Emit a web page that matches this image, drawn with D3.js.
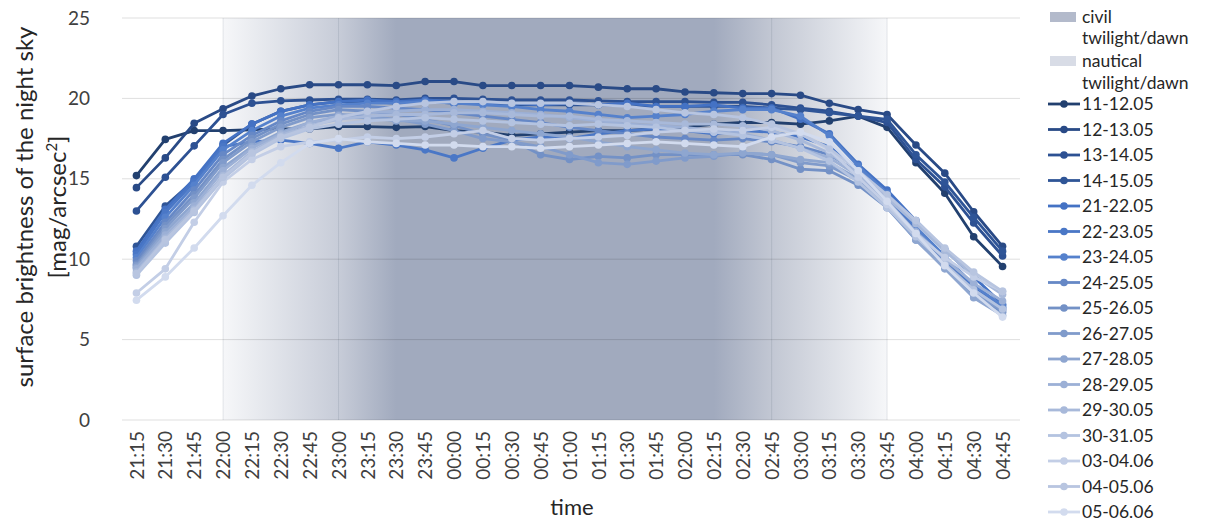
<!DOCTYPE html>
<html>
<head>
<meta charset="utf-8">
<script src="https://cdn.jsdelivr.net/npm/d3@7"></script>
<style>
  body { margin: 0; background: #fff; }
  svg { display: block; }
  text { font-family: Lato, "Open Sans", sans-serif; }
</style>
</head>
<body>
<svg id="chart" width="1207" height="522"></svg>
<script>
// time categories (15 minute steps)
var times = ["21:15","21:30","21:45","22:00","22:15","22:30","22:45","23:00","23:15","23:30","23:45",
  "00:00","00:15","00:30","00:45","01:00","01:15","01:30","01:45","02:00","02:15","02:30","02:45",
  "03:00","03:15","03:30","03:45","04:00","04:15","04:30","04:45"];

var yTicks = [0, 5, 10, 15, 20, 25];

// twilight boundaries for the background shading
var twilightTimes = ["22:00", "23:00", "23:30", "02:15", "02:45", "03:45"];
var twilightLines = ["22:00", "23:00", "02:45", "03:45"];
var twilightNames = ["civil twilight/dawn", "nautical twilight/dawn"];

var seriesNames = ["11-12.05","12-13.05","13-14.05","14-15.05","21-22.05","22-23.05","23-24.05",
  "24-25.05","25-26.05","26-27.05","27-28.05","28-29.05","29-30.05","30-31.05","03-04.06","04-05.06","05-06.06"];

// surface brightness [mag/arcsec2]
var s1112 = [15.2,17.45,18.0,18.0,18.05,18.1,18.1,18.25,18.25,18.2,18.25,18.0,17.9,17.7,17.8,17.9,18.0,18.0,18.1,18.2,18.4,18.5,18.5,18.4,18.6,18.9,18.2,16.0,14.1,11.4,9.55];
var s1213 = [14.45,16.3,18.45,19.35,20.15,20.6,20.85,20.85,20.85,20.8,21.05,21.05,20.8,20.8,20.8,20.8,20.7,20.6,20.6,20.4,20.35,20.3,20.3,20.2,19.7,19.3,19.0,17.1,15.35,12.95,10.8];
var s1314 = [13.0,15.1,17.05,19.0,19.7,19.85,19.9,19.95,19.95,19.9,20.0,20.0,19.95,19.9,19.9,19.9,19.85,19.8,19.8,19.8,19.75,19.75,19.6,19.4,19.2,18.9,18.5,16.2,14.5,12.25,10.2];
var s1415 = [10.8,13.3,14.9,17.1,18.4,19.2,19.6,19.8,19.8,19.7,19.8,19.7,19.7,19.6,19.6,19.6,19.6,19.55,19.5,19.5,19.5,19.5,19.4,19.3,19.1,18.9,18.7,16.5,14.8,12.6,10.5];
var s2122 = [10.5,13.1,15.0,17.2,18.4,19.2,19.6,19.8,19.9,19.8,19.9,19.8,19.7,19.7,19.6,19.7,19.6,19.7,19.5,19.5,19.6,19.4,19.4,18.7,17.8,15.9,14.3,12.4,10.6,8.9,7.2];
var s2223 = [10.3,12.9,14.8,17.0,17.3,17.4,17.2,16.9,17.3,17.1,16.8,16.3,16.9,17.4,17.6,17.5,17.8,18.0,18.1,18.0,17.8,18.0,17.9,17.6,17.0,15.6,13.9,11.8,9.9,8.2,7.0];
var s2324 = [10.1,12.6,14.6,16.8,18.0,18.9,19.4,19.6,19.7,19.7,19.8,19.7,19.6,19.5,19.3,19.2,19.0,18.8,18.9,19.0,19.2,19.3,19.3,18.9,17.7,15.8,14.1,12.0,10.2,8.4,7.1];
var s2425 = [9.9,12.3,14.3,16.5,17.7,18.6,19.2,19.5,19.5,19.4,19.3,19.1,18.9,18.7,18.5,18.2,18.0,17.8,17.6,17.5,17.4,17.5,17.3,17.0,16.5,15.4,13.7,11.6,9.8,8.1,6.9];
var s2526 = [9.7,12.1,14.0,16.2,17.5,18.4,19.0,19.3,19.2,19.0,18.7,18.3,17.8,17.4,16.5,16.2,16.4,16.3,16.5,16.5,16.5,16.5,16.2,15.6,15.5,14.6,13.2,11.2,9.5,7.8,6.7];
var s2627 = [9.6,11.9,13.8,16.0,17.3,18.2,18.8,19.0,18.9,18.7,18.4,18.0,17.5,17.3,17.0,16.5,16.0,15.9,16.1,16.3,16.4,16.6,16.5,16.0,15.8,14.9,13.5,11.5,9.6,7.9,6.8];
var s2728 = [9.5,11.7,13.5,15.7,17.0,17.9,18.5,18.8,18.8,18.6,18.6,18.4,18.2,18.0,17.8,17.6,17.3,17.0,16.8,16.6,16.5,16.6,16.5,16.2,16.0,15.0,13.3,11.2,9.4,7.6,6.5];
var s2829 = [9.4,11.5,13.3,15.5,16.9,17.8,18.5,18.9,19.1,19.2,19.3,19.3,19.2,19.1,19.0,18.8,18.6,18.4,18.3,18.2,18.0,17.8,17.4,16.9,16.3,15.2,13.6,11.7,10.0,8.5,7.4];
var s2930 = [9.2,11.3,13.1,15.2,16.7,17.7,18.3,18.7,18.9,19.0,19.0,19.1,19.1,19.0,18.9,18.9,18.7,18.6,18.5,18.4,18.4,18.3,18.0,17.4,16.6,15.3,13.8,12.2,10.5,9.0,7.8];
var s3031 = [9.0,11.0,12.9,15.0,16.5,17.5,18.1,18.4,18.6,18.7,18.8,18.7,18.6,18.5,18.4,18.3,18.4,18.3,18.2,18.0,17.9,17.7,17.4,16.9,16.1,14.8,13.2,11.4,9.7,8.1,6.9];
var s0304 = [7.9,9.4,12.3,14.8,16.2,17.0,17.3,17.4,17.6,17.5,17.6,17.8,18.0,17.5,17.4,17.5,17.6,17.7,17.9,18.0,18.1,18.0,18.2,17.8,16.8,15.1,13.4,11.6,10.1,8.9,8.0];
var s0405 = [9.1,11.2,13.0,15.1,16.6,17.6,18.2,18.8,19.2,19.5,19.7,19.8,19.8,19.7,19.7,19.7,19.6,19.5,19.3,19.1,19.0,18.8,18.4,17.8,16.9,15.5,14.0,12.4,10.7,9.2,8.0];
var s0506 = [7.45,8.9,10.7,12.7,14.6,16.0,17.2,17.5,17.3,17.2,17.1,17.1,17.0,17.0,16.9,17.0,17.1,17.2,17.3,17.2,17.1,17.0,17.6,17.9,17.3,15.5,13.6,11.6,9.6,7.9,6.4];

var seriesValues = [s1112, s1213, s1314, s1415, s2122, s2223, s2324, s2425, s2526, s2627,
  s2728, s2829, s2930, s3031, s0304, s0405, s0506];

// styles
var seriesColors = ["#22406f","#294a86","#2d5193","#2f5597","#4472c4","#4a77c6","#5581cc","#6688c6",
  "#7391c6","#809bcb","#8ea6d0","#9cb0d6","#a8b9da","#b4c3e0","#c3cee6","#b8c5e0","#d2dbee"];
var shadeColors = ["#f6f7f9","#c7ccd8","#a1aabe","#a1aabe","#c2c7d3","#f6f7f9"];
var swatchColors = ["#b3bacb", "#d8dce6"];

var svg = d3.select("#chart");

var x = d3.scalePoint().domain(times).range([122, 1017]).padding(0.5);
var y = d3.scaleLinear().domain([0, 25]).range([420, 18]);

// background gradient for twilight / night
var x0 = x(twilightTimes[0]), x1 = x(twilightTimes[twilightTimes.length - 1]);
var grad = svg.append("defs").append("linearGradient")
  .attr("id", "night")
  .attr("gradientUnits", "userSpaceOnUse")
  .attr("x1", x0).attr("x2", x1).attr("y1", 0).attr("y2", 0);
grad.selectAll("stop")
  .data(twilightTimes)
  .enter().append("stop")
  .attr("offset", d => (x(d) - x0) / (x1 - x0))
  .attr("stop-color", (d, i) => shadeColors[i]);

svg.append("rect")
  .attr("x", x0).attr("y", y(25))
  .attr("width", x1 - x0).attr("height", y(0) - y(25))
  .attr("fill", "url(#night)");

svg.append("g").selectAll("line")
  .data(twilightLines)
  .enter().append("line")
  .attr("x1", d => x(d)).attr("x2", d => x(d))
  .attr("y1", y(25)).attr("y2", y(0))
  .attr("stroke", "rgba(60,70,100,0.12)")
  .attr("stroke-width", 1);

// horizontal grid
svg.append("g").selectAll("line")
  .data(yTicks)
  .enter().append("line")
  .attr("x1", 122).attr("x2", 1020)
  .attr("y1", d => y(d)).attr("y2", d => y(d))
  .attr("stroke", "rgba(0,0,0,0.13)")
  .attr("stroke-width", 1);

// y axis labels
var yAxis = svg.append("g")
  .attr("transform", "translate(100,0)")
  .call(d3.axisLeft(y).tickValues(yTicks).tickSize(0).tickPadding(10));
yAxis.select(".domain").remove();
yAxis.selectAll("text").attr("font-size", 19).attr("fill", "#404040")
  .style("font-family", "Lato, sans-serif");

// x axis labels
var xAxis = svg.append("g")
  .attr("transform", "translate(0," + y(0) + ")")
  .call(d3.axisBottom(x).tickSize(0));
xAxis.select(".domain").remove();
xAxis.selectAll("text")
  .attr("font-size", 19).attr("fill", "#404040")
  .style("font-family", "Lato, sans-serif")
  .attr("text-anchor", "end")
  .attr("transform", "rotate(-90)")
  .attr("x", -11).attr("y", 0).attr("dy", "0.35em");

// axis titles
svg.append("text")
  .attr("x", 572).attr("y", 515)
  .attr("text-anchor", "middle")
  .attr("font-size", 22).attr("fill", "#262626")
  .text("time");

var yTitle = svg.append("text")
  .attr("transform", "translate(33,207) rotate(-90)")
  .attr("text-anchor", "middle")
  .attr("font-size", 24).attr("fill", "#262626");
yTitle.append("tspan").attr("x", 0).attr("y", 0).text("surface brightness of the night sky");
var t2 = yTitle.append("tspan").attr("x", 0).attr("y", 33).text("[mag/arcsec");
t2.append("tspan").attr("baseline-shift", "super").attr("font-size", 15).text("2");
t2.append("tspan").text("]");

// series lines
var line = d3.line()
  .x((d, i) => x(times[i]))
  .y(d => y(d));

var series = svg.append("g").selectAll("g.series")
  .data(seriesValues)
  .enter().append("g")
  .attr("class", "series");

series.append("path")
  .attr("d", d => line(d))
  .attr("fill", "none")
  .attr("stroke", (d, i) => seriesColors[i])
  .attr("stroke-width", 2.8)
  .attr("stroke-linejoin", "round");

series.each(function(vals, si) {
  d3.select(this).selectAll("circle")
    .data(vals)
    .enter().append("circle")
    .attr("cx", (d, i) => x(times[i]))
    .attr("cy", d => y(d))
    .attr("r", 3.8)
    .attr("fill", seriesColors[si]);
});

// legend
var legend = svg.append("g").attr("transform", "translate(1048,0)");
var legText = 17.5;
var legTop = [17, 61];

twilightNames.forEach((name, i) => {
  var top = legTop[i];
  var words = name.split(" ");
  legend.append("rect")
    .attr("x", 2).attr("y", top - 5)
    .attr("width", 26).attr("height", 10)
    .attr("fill", swatchColors[i]);
  legend.append("text").attr("x", 34).attr("y", top).attr("dy", "0.35em")
    .attr("font-size", legText).attr("fill", "#262626").text(words[0]);
  legend.append("text").attr("x", 34).attr("y", top + 21 + i).attr("dy", "0.35em")
    .attr("font-size", legText).attr("fill", "#262626").text(words[1]);
});

var legRow = d3.scaleLinear().domain([0, seriesNames.length - 1]).range([104, 512]);
var items = legend.selectAll("g.item")
  .data(seriesNames)
  .enter().append("g")
  .attr("class", "item")
  .attr("transform", (d, i) => "translate(0," + legRow(i) + ")");
items.append("line")
  .attr("x1", 0).attr("x2", 32).attr("y1", 0).attr("y2", 0)
  .attr("stroke", (d, i) => seriesColors[i]).attr("stroke-width", 2.8);
items.append("circle")
  .attr("cx", 16).attr("cy", 0).attr("r", 3.8)
  .attr("fill", (d, i) => seriesColors[i]);
items.append("text")
  .attr("x", 34).attr("y", 0).attr("dy", "0.35em")
  .attr("font-size", legText).attr("fill", "#262626")
  .text(d => d);
</script>
</body>
</html>
